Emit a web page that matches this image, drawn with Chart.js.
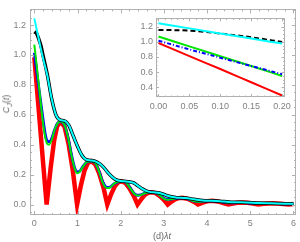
<!DOCTYPE html>
<html>
<head>
<meta charset="utf-8">
<script src="https://cdn.jsdelivr.net/npm/chart.js@4.4.0/dist/chart.umd.min.js"></script>
<style>
  body { margin: 0; background: #fff; }
  #wrap { position: relative; width: 300px; height: 242px; font-family: "Liberation Sans", Arial, sans-serif; }
  #main { position: absolute; left: 0; top: 0; }
  #inset { position: absolute; left: 130px; top: 10px; }
  .lab { position: absolute; color: #666; font-size: 9px; white-space: nowrap; }
  #ylab { left: 7px; top: 104px; transform: translate(-50%, -50%) rotate(-90deg); }
  #xlab { left: 162px; top: 236px; transform: translate(-50%, -50%); }
</style>
</head>
<body>
<div id="wrap">
  <canvas id="main" width="300" height="242"></canvas>
  <canvas id="inset" width="165" height="108"></canvas>
  <div class="lab" id="ylab"><i>C</i><sub style="font-size:7px"><i>J</i></sub>(<i>t</i>)</div>
  <div class="lab" id="xlab">(d)<i>λt</i></div>
</div>
<script>
// main plot data
const redX = [0, 0.1, 0.2, 0.285, 0.38, 0.46, 0.53, 0.61, 0.7, 0.79, 0.89, 0.99, 1.08, 1.16, 1.24, 1.32, 1.41, 1.5, 1.6, 1.69, 1.78, 1.86, 1.94, 2.02, 2.11, 2.2, 2.3, 2.39, 2.48, 2.56, 2.64, 2.72, 2.81, 2.9, 3.0, 3.09, 3.18, 3.26, 3.34, 3.42, 3.51, 3.6, 3.7, 3.79, 3.9, 4.0, 4.12, 4.24, 4.36, 4.49, 4.6, 4.7, 4.82, 4.94, 5.06, 5.19, 5.35, 5.52, 5.7, 5.89, 6.0];
const redY = [0.985, 0.64, 0.29, 0.0, 0.25, 0.43, 0.525, 0.555, 0.52, 0.41, 0.23, 0.0, 0.13, 0.225, 0.278, 0.29, 0.27, 0.21, 0.115, 0.0, 0.07, 0.12, 0.148, 0.155, 0.145, 0.11, 0.06, 0.0, 0.037, 0.065, 0.079, 0.082, 0.076, 0.058, 0.032, 0.0, 0.02, 0.035, 0.043, 0.045, 0.041, 0.032, 0.017, 0.0, 0.013, 0.022, 0.025, 0.021, 0.012, 0.0, 0.007, 0.012, 0.014, 0.012, 0.007, 0.0, 0.006, 0.008, 0.005, 0.0, 0.003];

const greenX = [0, 0.1, 0.2, 0.26, 0.3, 0.34, 0.4, 0.47, 0.54, 0.61, 0.7, 0.78, 0.86, 0.93, 0.99, 1.04, 1.12, 1.22, 1.32, 1.42, 1.5, 1.58, 1.65, 1.7, 1.76, 1.85, 1.94, 2.02, 2.12, 2.22, 2.32, 2.39, 2.46, 2.56, 2.64, 2.72, 2.82, 2.92, 3.02, 3.09, 3.18, 3.3, 3.42, 3.54, 3.68, 3.79, 3.9, 4.02, 4.14, 4.3, 4.49, 4.65, 4.82, 5.0, 5.19, 5.4, 5.55, 5.75, 6.0];
const greenY = [1.07, 0.81, 0.55, 0.44, 0.405, 0.4, 0.43, 0.5, 0.545, 0.555, 0.53, 0.45, 0.33, 0.245, 0.21, 0.215, 0.25, 0.285, 0.29, 0.275, 0.22, 0.15, 0.115, 0.11, 0.115, 0.14, 0.152, 0.155, 0.148, 0.11, 0.07, 0.06, 0.063, 0.075, 0.081, 0.082, 0.078, 0.058, 0.036, 0.032, 0.036, 0.043, 0.045, 0.04, 0.023, 0.018, 0.02, 0.024, 0.025, 0.02, 0.011, 0.012, 0.014, 0.01, 0.006, 0.007, 0.008, 0.005, 0.004];

const blueX = greenX;
const blueY = [1.015, 0.79, 0.575, 0.46, 0.425, 0.42, 0.44, 0.5, 0.545, 0.555, 0.53, 0.45, 0.335, 0.25, 0.218, 0.22, 0.252, 0.285, 0.29, 0.275, 0.222, 0.155, 0.12, 0.114, 0.118, 0.14, 0.152, 0.155, 0.148, 0.112, 0.072, 0.062, 0.065, 0.076, 0.081, 0.082, 0.078, 0.06, 0.038, 0.034, 0.037, 0.043, 0.045, 0.04, 0.024, 0.019, 0.021, 0.024, 0.025, 0.02, 0.012, 0.012, 0.014, 0.01, 0.007, 0.007, 0.008, 0.005, 0.004];

const blackX = [0, 0.05, 0.1, 0.15, 0.2, 0.3, 0.4, 0.5, 0.6, 0.7, 0.8, 0.9, 1.0, 1.1, 1.2, 1.3, 1.4, 1.5, 1.6, 1.7, 1.8, 1.9, 2.0, 2.1, 2.2, 2.3, 2.4, 2.5, 2.6, 2.7, 2.8, 2.9, 3.0, 3.1, 3.2, 3.3, 3.4, 3.5, 3.7, 3.9, 4.1, 4.3, 4.5, 4.7, 4.9, 5.2, 5.5, 5.8, 6.0];
const blackY = [1.155, 1.145, 1.11, 1.065, 1.0, 0.87, 0.71, 0.6, 0.565, 0.56, 0.53, 0.46, 0.39, 0.33, 0.3, 0.295, 0.29, 0.275, 0.25, 0.215, 0.185, 0.165, 0.157, 0.155, 0.152, 0.145, 0.125, 0.105, 0.09, 0.083, 0.081, 0.077, 0.068, 0.057, 0.05, 0.046, 0.045, 0.043, 0.035, 0.027, 0.025, 0.022, 0.017, 0.015, 0.014, 0.01, 0.008, 0.006, 0.005];

const cyanX = [0, 0.1, 0.2, 0.3, 0.4, 0.5, 0.6, 0.7, 0.8, 0.9, 1.0, 1.1, 1.2, 1.3, 1.4, 1.5, 1.6, 1.7, 1.8, 1.9, 2.0, 2.1, 2.2, 2.3, 2.4, 2.5, 2.6, 2.7, 2.8, 2.9, 3.0, 3.1, 3.2, 3.3, 3.4, 3.5, 3.7, 3.9, 4.1, 4.3, 4.5, 4.7, 4.9, 5.2, 5.5, 5.8, 6.0];
const cyanY = [1.245, 1.11, 0.98, 0.865, 0.71, 0.6, 0.565, 0.56, 0.53, 0.46, 0.39, 0.33, 0.3, 0.295, 0.29, 0.275, 0.25, 0.215, 0.185, 0.165, 0.157, 0.155, 0.152, 0.145, 0.125, 0.105, 0.09, 0.083, 0.081, 0.077, 0.068, 0.057, 0.05, 0.046, 0.045, 0.043, 0.035, 0.027, 0.025, 0.022, 0.017, 0.015, 0.014, 0.01, 0.008, 0.006, 0.005];

const mainXTicks = [0, 1, 2, 3, 4, 5, 6];
const mainXLabels = ['0', '1', '2', '3', '4', '5', '6'];
const mainYTicks = [0, 0.2, 0.4, 0.6, 0.8, 1.0, 1.2];
const mainYLabels = ['0.0', '0.2', '0.4', '0.6', '0.8', '1.0', '1.2'];

// inset data (short time window)
const insetX = [0, 0.05, 0.1, 0.15, 0.2];
const insetCyan = [1.245, 1.178, 1.11, 1.043, 0.977];
const insetBlack = [1.158, 1.148, 1.11, 1.06, 0.998];
const insetGreen = [1.07, 0.94, 0.81, 0.68, 0.548];
const insetBlue = [1.015, 0.9, 0.79, 0.68, 0.572];
const insetRed = [0.985, 0.81, 0.64, 0.465, 0.29];

const insetXTicks = [0, 0.05, 0.1, 0.15, 0.2];
const insetXLabels = ['0.00', '0.05', '0.10', '0.15', '0.20'];
const insetYTicks = [0.4, 0.6, 0.8, 1.0, 1.2];
const insetYLabels = ['0.4', '0.6', '0.8', '1.0', '1.2'];

const pts = (xs, ys) => xs.map((x, i) => ({ x: x, y: ys[i] }));

// minor tick positions between (and one step beyond) the major ones
function subdivide(major, n) {
    const big = major[1] - major[0];
    const out = [];
    for (let v = major[0] - big; v <= major[major.length - 1] + big + 1e-9; v += big / n) {
        out.push(+v.toFixed(5));
    }
    return out;
}

// Mathematica-like frame: box on all four sides, ticks pointing inward
const frameTicks = {
    id: 'frameTicks',
    afterDatasetsDraw(chart, args, o) {
        const { ctx, chartArea: a, scales } = chart;
        ctx.save();
        ctx.strokeStyle = o.color;
        ctx.lineWidth = 1;
        ctx.beginPath();
        const marks = (scale, vals, len) => vals.forEach(v => {
            const p = Math.round(scale.getPixelForValue(v)) + 0.5;
            if (scale.isHorizontal()) {
                if (p < a.left || p > a.right) return;
                ctx.moveTo(p, a.bottom); ctx.lineTo(p, a.bottom - len);
                ctx.moveTo(p, a.top); ctx.lineTo(p, a.top + len);
            } else {
                if (p < a.top || p > a.bottom) return;
                ctx.moveTo(a.left, p); ctx.lineTo(a.left + len, p);
                ctx.moveTo(a.right, p); ctx.lineTo(a.right - len, p);
            }
        });
        marks(scales.x, o.xMajor, o.major);
        marks(scales.x, o.xMinor, o.minor);
        marks(scales.y, o.yMajor, o.major);
        marks(scales.y, o.yMinor, o.minor);
        ctx.stroke();
        ctx.strokeRect(Math.round(a.left) + 0.5, Math.round(a.top) + 0.5,
                       Math.round(a.right - a.left) - 1, Math.round(a.bottom - a.top) - 1);
        ctx.restore();
    }
};

function axis(min, max, ticks, labels, size, pad, fit) {
    return {
        type: 'linear',
        min: min,
        max: max,
        grid: { display: false, drawTicks: false },
        border: { display: false },
        afterBuildTicks: s => { s.ticks = ticks.map(v => ({ value: v })); },
        afterFit: fit,
        ticks: {
            color: '#808080',
            padding: pad,
            maxRotation: 0,
            autoSkip: false,
            font: { family: '"Liberation Sans", Arial, sans-serif', size: size },
            callback: (value) => labels[ticks.indexOf(value)]
        }
    };
}

const line = (data, color, width, extra) => Object.assign({
    data: data,
    borderColor: color,
    backgroundColor: color,
    borderWidth: width,
    pointRadius: 0,
    fill: false,
    cubicInterpolationMode: 'monotone'
}, extra || {});

// dataset 0 is painted on top
new Chart(document.getElementById('main'), {
    type: 'line',
    data: {
        datasets: [
            line(pts(cyanX, cyanY), '#00ffff', 2),
            line(pts(blackX, blackY), '#000000', 3.5),
            line(pts(greenX, greenY), '#00e600', 2),
            line(pts(blueX, blueY), '#0000ff', 2.8),
            line(pts(redX, redY), '#ff0000', 4.5, { cubicInterpolationMode: 'default', tension: 0 })
        ]
    },
    options: {
        responsive: false,
        animation: false,
        devicePixelRatio: 1,
        layout: { padding: { top: 2, right: 4, left: 0, bottom: 0 } },
        plugins: {
            legend: { display: false },
            tooltip: { enabled: false },
            frameTicks: {
                color: '#b0b0b0', major: 4, minor: 2,
                xMajor: mainXTicks, xMinor: subdivide(mainXTicks, 5),
                yMajor: mainYTicks, yMinor: subdivide(mainYTicks, 4)
            }
        },
        scales: {
            x: axis(-0.1, 6.06, mainXTicks, mainXLabels, 9, 3, s => { s.height = 27; }),
            y: axis(-0.07, 1.305, mainYTicks, mainYLabels, 9, 4, s => { s.width = 30; })
        }
    },
    plugins: [frameTicks]
});

new Chart(document.getElementById('inset'), {
    type: 'line',
    data: {
        datasets: [
            line(pts(insetX, insetCyan), '#00ffff', 2),
            line(pts(insetX, insetBlack), '#000000', 2, { borderDash: [5, 3] }),
            line(pts(insetX, insetBlue), '#0000ff', 2, { borderDash: [4, 2, 1, 2] }),
            line(pts(insetX, insetGreen), '#00e600', 2),
            line(pts(insetX, insetRed), '#ff0000', 2)
        ]
    },
    options: {
        responsive: false,
        animation: false,
        devicePixelRatio: 1,
        layout: { padding: { top: 8, right: 7.5, left: 0, bottom: 0 } },
        plugins: {
            legend: { display: false },
            tooltip: { enabled: false },
            frameTicks: {
                color: '#b0b0b0', major: 3, minor: 1.5,
                xMajor: insetXTicks, xMinor: subdivide(insetXTicks, 5),
                yMajor: insetYTicks, yMinor: subdivide(insetYTicks, 4)
            }
        },
        scales: {
            x: axis(-0.004, 0.204, insetXTicks, insetXLabels, 9, 4, s => { s.height = 21; }),
            y: axis(0.27, 1.31, insetYTicks, insetYLabels, 9, 3, s => { s.width = 26; })
        }
    },
    plugins: [frameTicks]
});
</script>
</body>
</html>
